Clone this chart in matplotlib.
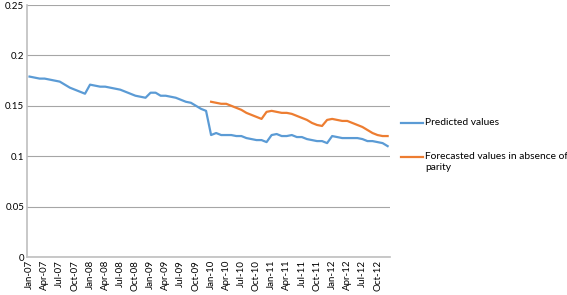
import numpy as np
import matplotlib.pyplot as plt
from matplotlib.lines import Line2D

months = ['Jan', 'Feb', 'Mar', 'Apr', 'May', 'Jun', 'Jul', 'Aug', 'Sep', 'Oct', 'Nov', 'Dec']
labels = [m + '-' + str(y) for y in ['07', '08', '09', '10', '11', '12'] for m in months]

predicted = [0.179, 0.178, 0.177, 0.177, 0.176, 0.175, 0.174, 0.171, 0.168, 0.166, 0.164, 0.162,
             0.171, 0.170, 0.169, 0.169, 0.168, 0.167, 0.166, 0.164, 0.162, 0.160, 0.159, 0.158,
             0.163, 0.163, 0.160, 0.160, 0.159, 0.158, 0.156, 0.154, 0.153, 0.150, 0.147, 0.145,
             0.121, 0.123, 0.121, 0.121, 0.121, 0.120, 0.120, 0.118, 0.117, 0.116, 0.116, 0.114,
             0.121, 0.122, 0.120, 0.120, 0.121, 0.119, 0.119, 0.117, 0.116, 0.115, 0.115, 0.113,
             0.120, 0.119, 0.118, 0.118, 0.118, 0.118, 0.117, 0.115, 0.115, 0.114, 0.113, 0.110]

# forecast starts at Jan-10
forecast = [np.nan] * 36 + [
             0.154, 0.153, 0.152, 0.152, 0.150, 0.148, 0.146, 0.143, 0.141, 0.139, 0.137, 0.144,
             0.145, 0.144, 0.143, 0.143, 0.142, 0.140, 0.138, 0.136, 0.133, 0.131, 0.130, 0.136,
             0.137, 0.136, 0.135, 0.135, 0.133, 0.131, 0.129, 0.126, 0.123, 0.121, 0.120, 0.120]

blue = '#5B9BD5'
orange = '#ED7D31'

plt.rcParams['font.family'] = ['Lato', 'DejaVu Sans']

fig = plt.figure(figsize=(5.67, 2.95), dpi=100)
ax = fig.add_axes([0.0476, 0.1288, 0.6405, 0.8542])

x = np.arange(len(labels))
ax.plot(x, predicted, color=blue, lw=1.6)
ax.plot(x, forecast, color=orange, lw=1.6)

ax.set_xlim(-0.5, len(labels) - 0.5)
ax.set_ylim(0, 0.25)
ax.set_yticks([0, 0.05, 0.1, 0.15, 0.2, 0.25])
ax.set_yticklabels(['0', '0.05', '0.1', '0.15', '0.2', '0.25'], fontsize=7)
ax.set_xticks(x[::3])
ax.set_xticklabels(labels[::3], rotation=90, fontsize=7)
ax.tick_params(length=0, pad=2)
ax.yaxis.grid(True, color='#a6a6a6', lw=0.8)
ax.set_axisbelow(True)
for s in ['top', 'right']:
    ax.spines[s].set_visible(False)
ax.spines['left'].set_color('#bfbfbf')
ax.spines['bottom'].set_color('#bfbfbf')
ax.spines['left'].set_linewidth(1.2)
ax.spines['bottom'].set_linewidth(1.2)

# legend drawn by hand, Excel style (handle lines up with first text line)
for yy, c, txt in [(0.532, blue, 'Predicted values'),
                   (0.397, orange, 'Forecasted values in absence of\nparity')]:
    ax.add_line(Line2D([1.030, 1.091], [yy, yy], color=c, lw=1.6,
                       transform=ax.transAxes, clip_on=False))
    ax.text(1.096, yy + 0.021, txt, transform=ax.transAxes, fontsize=7.35,
            va='top', ha='left', linespacing=1.4)

fig.savefig('out.png', dpi=100)
